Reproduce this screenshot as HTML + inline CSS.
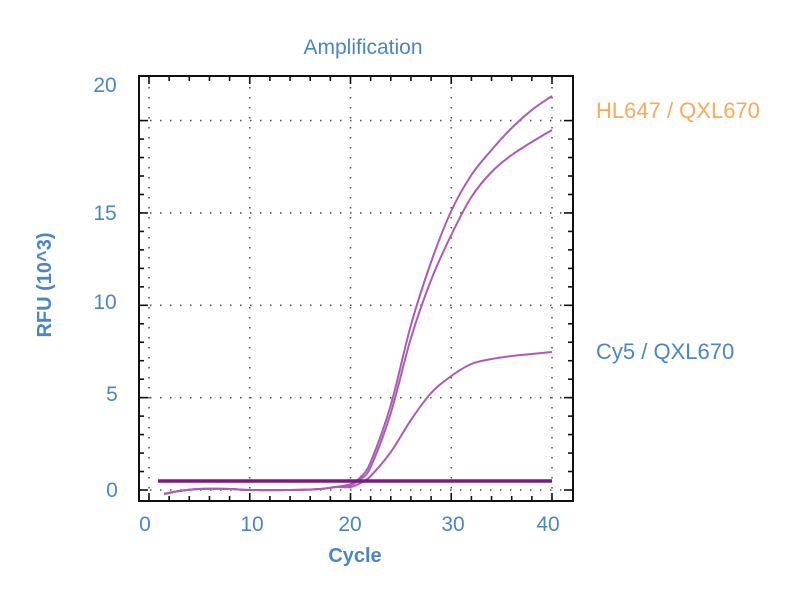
<!DOCTYPE html>
<html><head><meta charset="utf-8"><style>
body{margin:0;background:#fff;width:800px;height:600px;overflow:hidden}
text{font-family:"Liberation Sans",sans-serif}
</style></head><body>
<svg id="s" width="800" height="600" xmlns="http://www.w3.org/2000/svg">
<text x="363" y="54" text-anchor="middle" font-size="21" fill="#4a86c5">Amplification</text>
<g id="grid" stroke="#555" stroke-width="1.6" stroke-dasharray="1.5 8.5"></g>
<rect x="139" y="76" width="434" height="425" fill="none" stroke="#111" stroke-width="2"/>
<g id="ticks" stroke="#111" stroke-width="1.6"></g>
<g fill="#4a86c5" font-size="21" text-anchor="middle">
<text x="145" y="531">0</text><text x="252" y="531">10</text><text x="350" y="531">20</text><text x="453" y="531">30</text><text x="548" y="531">40</text>
<text x="105" y="92">20</text><text x="105" y="220">15</text><text x="105" y="309">10</text><text x="112" y="401">5</text><text x="112" y="497">0</text>
</g>
<text x="355" y="562" text-anchor="middle" font-size="20" fill="#4a86c5" font-weight="bold">Cycle</text>
<text transform="translate(51,285) rotate(-90)" text-anchor="middle" font-size="20" fill="#4a86c5" font-weight="bold">RFU (10^3)</text>
<text x="596" y="118" font-size="22" fill="#f5ab5a">HL647 / QXL670</text>
<text x="596" y="359" font-size="22" fill="#4a86c5">Cy5 / QXL670</text>
<g id="curves" fill="none" stroke="#ac5bb5" stroke-width="2"></g>
<line x1="158" y1="481" x2="552" y2="481" stroke="#7a1a7f" stroke-width="3.5"/>
</svg>
<script>
var X=function(v){return 149+v*10.075},Y=function(v){return 490-v*18.47};
var g=document.getElementById('grid'),t=document.getElementById('ticks'),ns='http://www.w3.org/2000/svg';
function L(p,a,b,c,d){var l=document.createElementNS(ns,'line');l.setAttribute('x1',a);l.setAttribute('y1',b);l.setAttribute('x2',c);l.setAttribute('y2',d);p.appendChild(l);}
for(var i=0;i<=40;i+=10)L(g,X(i),77,X(i),500);
for(var j=0;j<=20;j+=5)L(g,140,Y(j),572,Y(j));
for(var i=0;i<=40;i+=2){var h=i%10?5:8;L(t,X(i),501,X(i),501-h);L(t,X(i),76,X(i),76+h);}
for(var j=0;j<=20;j++){if(Y(j)<77)continue;var k=j%5==0;L(t,139,Y(j),139+(k?9:5),Y(j));L(t,573,Y(j),573-(k?9:5),Y(j));}
var base=[[1.5,494],[3,491],[5,489],[8,489],[10,490],[14,490],[17,489],[18.5,487]];
var c1=[[20,484],[21,477],[22,462],[24,405],[26,325],[28,262],[30,211],[32,175],[34,150],[36,128],[38,110],[40,96]];
var c2=[[20,485],[21,479],[22,467],[24,413],[26,338],[28,280],[30,235],[32,197],[34,172],[36,155],[38,142],[40,130]];
var c3=[[20,487],[21,483],[22,476],[24,452],[26,420],[28,393],[30,376],[32,364],[34,359],[36,356],[38,354],[40,352]];
function path(pts){pts=pts.map(function(p){return [X(p[0]),p[1]]});var d='M'+pts[0];for(var i=0;i<pts.length-1;i++){var p0=pts[i-1]||pts[i],p1=pts[i],p2=pts[i+1],p3=pts[i+2]||p2;
d+='C'+(p1[0]+(p2[0]-p0[0])/6)+','+(p1[1]+(p2[1]-p0[1])/6)+' '+(p2[0]-(p3[0]-p1[0])/6)+','+(p2[1]-(p3[1]-p1[1])/6)+' '+p2;}
var e=document.createElementNS(ns,'path');e.setAttribute('d',d);document.getElementById('curves').appendChild(e);}
path(base.concat(c1));path(base.concat(c2));path(base.concat(c3));
</script>
</body></html>
